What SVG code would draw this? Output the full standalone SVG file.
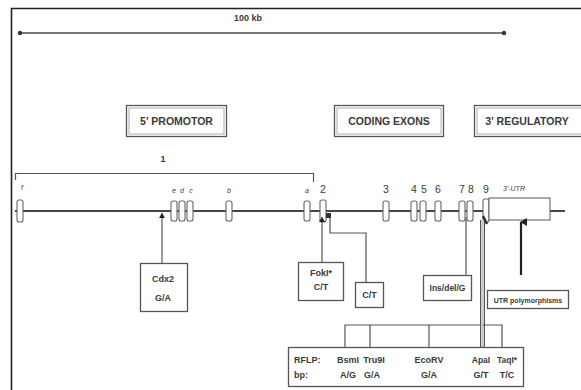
<svg xmlns="http://www.w3.org/2000/svg" width="581" height="390" viewBox="0 0 581 390">
<defs>
<marker id="dot" markerWidth="6" markerHeight="6" refX="3" refY="3" markerUnits="userSpaceOnUse"><circle cx="3" cy="3" r="2.2" fill="#333"/></marker>
<marker id="up" markerWidth="8" markerHeight="8" refX="4" refY="1" orient="auto-start-reverse" markerUnits="userSpaceOnUse"><path d="M0,7 L4,0 L8,7 Z" fill="#222"/></marker>
<marker id="ah" markerWidth="6" markerHeight="6" refX="3" refY="0" markerUnits="userSpaceOnUse"><path d="M0,5 L3,0 L6,5 Z" fill="#222"/></marker>
</defs>
<style>
text{font-family:"Liberation Sans",Arial,sans-serif;fill:#3a3a3a;font-weight:bold}
.t{font-size:9px;text-anchor:middle}
.h{font-size:10.5px;text-anchor:middle}
.e{font-size:7px;font-style:italic;font-weight:normal;text-anchor:middle}
.n{font-size:10.5px;font-weight:normal;text-anchor:middle}
.box{fill:#fff;stroke:#555;stroke-width:1.3}
.dbl{fill:none;stroke:#777;stroke-width:0.6}
.ln{fill:none;stroke:#555;stroke-width:1.2}
.ex{fill:#fff;stroke:#666;stroke-width:1.1}
</style>
<rect x="0" y="0" width="581" height="390" fill="#fff"/>
<path d="M11.5,390 V8.5 H581" fill="none" stroke="#222" stroke-width="1.6"/>

<g id="scale">
<line x1="20" y1="33" x2="504" y2="33" stroke="#777" stroke-width="1.8" marker-start="url(#dot)" marker-end="url(#dot)"/>
<text x="248" y="21" class="t">100 kb</text>
</g>

<g id="promotor"><rect class="box" x="126.5" y="105.5" width="100" height="31"/><rect class="dbl" x="129" y="108" width="95" height="26"/><text x="176.5" y="125" class="h">5' PROMOTOR</text></g>
<g id="coding"><rect class="box" x="334.5" y="105.5" width="109" height="31"/><rect class="dbl" x="337" y="108" width="104" height="26"/><text x="389" y="125" class="h">CODING EXONS</text></g>
<g id="regulatory"><rect class="box" x="474.5" y="105.5" width="110" height="31"/><rect class="dbl" x="477" y="108" width="105" height="26"/><text x="527" y="125" class="h">3' REGULATORY</text></g>

<g id="exon1-bracket">
<text x="163" y="162" class="t">1</text>
<path d="M15.5,180 V173.5 H313.5 V182" class="ln" stroke="#777" stroke-width="1.6"/>
</g>

<g id="gene">
<line x1="15" y1="211" x2="565" y2="211" stroke="#444" stroke-width="2"/>
<rect class="ex" x="17" y="200" width="6" height="22" rx="2"/><text x="22" y="190" class="e">f</text>
<rect class="ex" x="171" y="201" width="6" height="20" rx="2"/><text x="174" y="193" class="e">e</text>
<rect class="ex" x="179" y="201" width="6" height="20" rx="2"/><text x="182" y="193" class="e">d</text>
<rect class="ex" x="187" y="201" width="6" height="20" rx="2"/><text x="191" y="193" class="e">c</text>
<rect class="ex" x="226" y="201" width="6" height="20" rx="2"/><text x="229" y="193" class="e">b</text>
<rect class="ex" x="304" y="201" width="6" height="20" rx="2"/><text x="307" y="193" class="e">a</text>
<rect class="ex" x="320" y="200" width="6" height="22" rx="2"/><text x="323" y="193" class="n">2</text>
<rect class="ex" x="383" y="201" width="6" height="20" rx="2"/><text x="386" y="193" class="n">3</text>
<rect class="ex" x="411" y="201" width="6" height="20" rx="2"/><text x="414" y="193" class="n">4</text>
<rect class="ex" x="420" y="201" width="6" height="20" rx="2"/><text x="424" y="193" class="n">5</text>
<rect class="ex" x="435" y="201" width="6" height="20" rx="2"/><text x="438" y="193" class="n">6</text>
<rect class="ex" x="459" y="201" width="6" height="20" rx="2"/><text x="462" y="193" class="n">7</text>
<rect class="ex" x="467" y="201" width="6" height="20" rx="2"/><text x="471" y="193" class="n">8</text>
<rect class="ex" x="483" y="199" width="6" height="23" rx="2"/><text x="486" y="193" class="n">9</text>
<rect class="ex" x="489" y="198" width="61" height="22"/><text x="503" y="191" class="e" style="text-anchor:start">3'-UTR</text>
</g>

<g id="connectors">
<line x1="162" y1="263" x2="162" y2="213" class="ln" marker-end="url(#ah)"/>
<line x1="322" y1="262" x2="322" y2="217" class="ln" marker-end="url(#ah)"/>
<path d="M366,282 V233 H330 V215" class="ln"/>
<rect x="326" y="213" width="5" height="5" fill="#333"/>
<line x1="466" y1="275" x2="466" y2="217" class="ln"/>
<line x1="521" y1="275" x2="521" y2="222" stroke="#222" stroke-width="2.2" marker-end="url(#up)"/>
<path d="M482.5,347 V220" fill="none" stroke="#555" stroke-width="5"/>
<path d="M482.5,347 V220" fill="none" stroke="#ccc" stroke-width="3"/>
<path d="M482.5,325 H502 V347" class="ln"/>
<path d="M483,216 L487,224" stroke="#333" stroke-width="2.5"/>
<path d="M345,347 V325 H480 M370,325 V347 M429,325 V347" class="ln"/>
</g>

<g id="cdx2"><rect class="box" x="140.5" y="263.5" width="47" height="48"/><text x="163" y="282" class="t">Cdx2</text><text x="163" y="301" class="t">G/A</text></g>
<g id="foki"><rect class="box" x="298.5" y="262.5" width="45" height="38"/><text x="321" y="276" class="t">FokI*</text><text x="321" y="290" class="t">C/T</text></g>
<g id="ct"><rect class="box" x="355.5" y="282.5" width="28" height="25"/><text x="369.5" y="298" class="t">C/T</text></g>
<g id="insdel"><rect class="box" x="423.5" y="275.5" width="48" height="25"/><text x="447.5" y="291" class="t" style="font-size:8.5px">Ins/del/G</text></g>
<g id="utrpoly"><rect class="box" x="487.5" y="290.5" width="81" height="18"/><text x="528" y="302.5" class="t" style="font-size:7px">UTR polymorphisms</text></g>
<g id="rflp"><rect class="box" x="288.5" y="347.5" width="235" height="39"/>
<text x="294" y="363" class="t" style="text-anchor:start">RFLP:</text><text x="294" y="378" class="t" style="text-anchor:start">bp:</text>
<text x="348" y="363" class="t">BsmI</text><text x="348" y="378" class="t">A/G</text>
<text x="374" y="363" class="t">Tru9I</text><text x="372" y="378" class="t">G/A</text>
<text x="429" y="363" class="t">EcoRV</text><text x="429" y="378" class="t">G/A</text>
<text x="481" y="363" class="t" style="font-size:8.5px">ApaI</text><text x="481" y="378" class="t">G/T</text>
<text x="507" y="363" class="t" style="font-size:8.5px">TaqI*</text><text x="507" y="378" class="t">T/C</text>
</g>
</svg>
